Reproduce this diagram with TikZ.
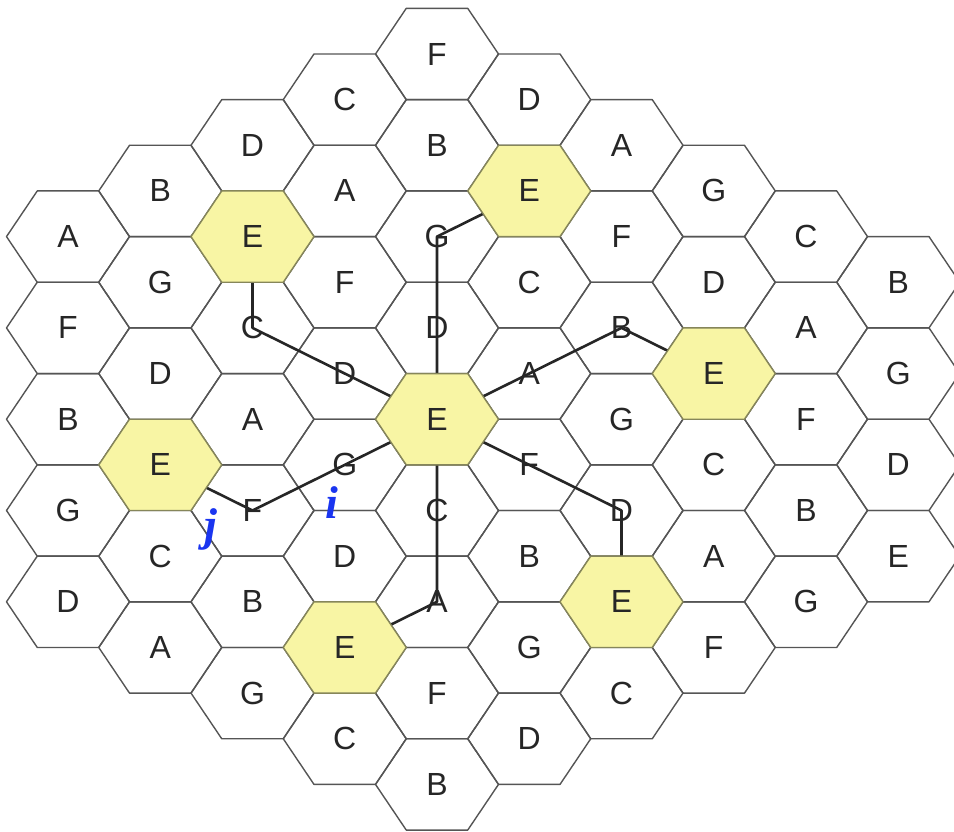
\documentclass[tikz,border=0pt]{standalone}
\usepackage{fontspec}
\setmainfont{Liberation Sans}
\newfontfamily\ijfont{Liberation Serif}
\usetikzlibrary{backgrounds}
\definecolor{cLine}{HTML}{555555}
\definecolor{cCell}{HTML}{F8F5A4}
\definecolor{cCellEdge}{HTML}{86865A}
\definecolor{cLabel}{HTML}{1A35F0}

\begin{document}
\begin{tikzpicture}[
    x=1pt, y=-1pt,
    hexline/.style={draw=cLine, line width=1.4pt, line join=round},
    hexhi/.style={hexline, draw=cCellEdge, fill=cCell},
    lbl/.style={font=\fontsize{32}{32}\selectfont, text=black!85, inner sep=0pt},
    link/.style={draw=black!85, line width=2.6pt, line join=round},
    idx/.style={font=\ijfont\bfseries\itshape\fontsize{46}{46}\selectfont, text=cLabel, inner sep=0pt}
]
\useasboundingbox (0,0) rectangle (954,832);

% plain cells
\foreach \c/\r/\t in {0/4/A,0/6/F,0/8/B,0/10/G,0/12/D,
    1/3/B,1/5/G,1/7/D,1/11/C,1/13/A,
    2/2/D,2/6/C,2/8/A,2/10/F,2/12/B,2/14/G,
    3/1/C,3/3/A,3/5/F,3/7/D,3/9/G,3/11/D,3/15/C,
    4/0/F,4/2/B,4/4/G,4/6/D,4/10/C,4/12/A,4/14/F,4/16/B,
    5/1/D,5/5/C,5/7/A,5/9/F,5/11/B,5/13/G,5/15/D,
    6/2/A,6/4/F,6/6/B,6/8/G,6/10/D,6/14/C,
    7/3/G,7/5/D,7/9/C,7/11/A,7/13/F,
    8/4/C,8/6/A,8/8/F,8/10/B,8/12/G,
    9/5/B,9/7/G,9/9/D,9/11/E} {
  \begin{scope}[on background layer]
    \draw[hexline] (68+92.25*\c, 54+45.65*\r) +(-61.5,0) -- +(-30.75,-45.65) -- +(30.75,-45.65)
      -- +(61.5,0) -- +(30.75,45.65) -- +(-30.75,45.65) -- cycle;
  \end{scope}
  \node[lbl] (h\c-\r) at (68+92.25*\c, 54+45.65*\r) {\t};
}

% highlighted E cells
\foreach \c/\r in {1/9,2/4,3/13,4/8,5/3,6/12,7/7} {
  \draw[hexhi] (68+92.25*\c, 54+45.65*\r) +(-61.5,0) -- +(-30.75,-45.65) -- +(30.75,-45.65)
    -- +(61.5,0) -- +(30.75,45.65) -- +(-30.75,45.65) -- cycle;
  \node[lbl] (h\c-\r) at (68+92.25*\c, 54+45.65*\r) {E};
}

% paths from the centre cell
\begin{scope}[on background layer]
\draw[link] (h4-8.center) -- (h4-4.center) -- (h5-3.center);
\draw[link] (h4-8.center) -- (h3-7.center) -- (h2-6.center) -- (h2-4.center);
\draw[link] (h4-8.center) -- (h5-7.center) -- (h6-6.center) -- (h7-7.center);
\draw[link] (h4-8.center) -- (h5-9.center) -- (h6-10.center) -- (h6-12.center);
\draw[link] (h4-8.center) -- (h4-10.center) -- (h4-12.center) -- (h3-13.center);
\draw[link] (h4-8.center) -- (h3-9.center) -- (h2-10.center) -- (h1-9.center);
\end{scope}

\node[idx] (celli) at (332,503) {i};
\node[idx] (cellj) at (211,529) {j};

\end{tikzpicture}
\end{document}
